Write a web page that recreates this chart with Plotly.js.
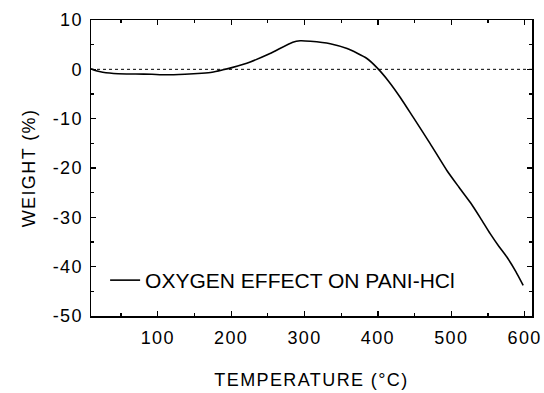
<!DOCTYPE html>
<html>
<head>
<meta charset="utf-8">
<script src="https://cdn.plot.ly/plotly-3.0.1.min.js"></script>
<style>
html,body{margin:0;padding:0;background:#fff;}
#chart{width:544px;height:393px;}
#chart svg .xtick text,#chart svg .ytick text,#chart svg .g-xtitle text,#chart svg .g-ytitle text{letter-spacing:1.4px;}
</style>
</head>
<body>
<div id="chart"></div>
<script>
// Temperature (°C) and weight change (%)
const temperature = [9, 16, 25, 46, 70, 92, 106, 137, 160, 174, 189, 201, 226, 253, 284, 294, 308, 335, 358, 385, 399, 414, 431, 448, 471, 494, 510, 526, 540, 553, 565, 576, 588, 598];
const weight = [0.1, -0.3, -0.6, -0.9, -0.95, -1.0, -1.1, -1.0, -0.8, -0.6, -0.1, 0.35, 1.5, 3.2, 5.5, 5.8, 5.7, 5.2, 4.2, 2.2, 0.3, -2.3, -5.8, -9.7, -15.0, -20.5, -23.8, -27.0, -30.2, -33.3, -35.9, -38.1, -41.0, -43.8];
const zeroRef = [0, 0];
const xRange = [9, 610];
const xTicks = [100, 200, 300, 400, 500, 600];
const xMinorTicks = [50, 150, 250, 350, 450, 550];
const yTicks = [-50, -40, -30, -20, -10, 0, 10];
const yTickLabels = ["-50", "-40", "-30", "-20", "-10", "0", "10"];
const seriesName = "OXYGEN EFFECT ON PANI-HCl";

const font = {family: "Liberation Sans, Arial, sans-serif", size: 18, color: "#000"};
const legendFont = {family: "Liberation Sans, Arial, sans-serif", size: 21, color: "#000"};

const traces = [
  {x: xRange, y: zeroRef, mode: "lines", line: {color: "#000", width: 1, dash: "dot"}, showlegend: false, hoverinfo: "skip"},
  {x: temperature, y: weight, mode: "lines", name: seriesName, line: {color: "#000", width: 1.6, shape: "spline", smoothing: 0.6}}
];

const layout = {
  width: 544, height: 393,
  margin: {l: 91, r: 12, t: 20, b: 77},
  paper_bgcolor: "#fff", plot_bgcolor: "#fff",
  font: font,
  showlegend: true,
  legend: {x: 0.032, y: 0.12, xanchor: "left", yanchor: "middle", bgcolor: "rgba(0,0,0,0)", font: legendFont, itemwidth: 30},
  xaxis: {
    range: xRange, tickvals: xTicks,
    ticks: "inside", ticklen: 5, tickwidth: 1.2, tickcolor: "#000",
    minor: {ticks: "inside", ticklen: 3, tickvals: xMinorTicks, tickcolor: "#000"},
    showline: true, linecolor: "#000", linewidth: 1.5, mirror: "ticks",
    showgrid: false, zeroline: false,
    tickfont: font, ticklabelstandoff: 5,
    title: {text: "TEMPERATURE (°C)", font: font, standoff: 26}
  },
  yaxis: {
    range: [-50, 10], tickvals: yTicks, ticktext: yTickLabels,
    ticks: "inside", ticklen: 5, tickwidth: 1.2, tickcolor: "#000",
    minor: {ticks: "inside", ticklen: 3, dtick: 5, tickcolor: "#000"},
    showline: true, linecolor: "#000", linewidth: 1.5, mirror: "ticks",
    showgrid: false, zeroline: false,
    tickfont: font, ticklabelstandoff: 3,
    title: {text: "WEIGHT (%)", font: font, standoff: 16}
  }
};

Plotly.newPlot("chart", traces, layout, {displayModeBar: false, staticPlot: true});
</script>
</body>
</html>
